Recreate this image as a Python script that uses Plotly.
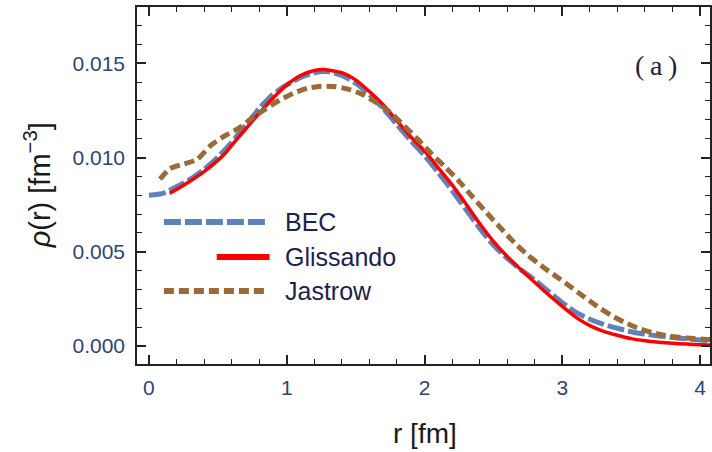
import plotly.graph_objects as go

# Radial density profiles rho(r) [fm^-3]
bec_r = [0.0, 0.1, 0.2, 0.3, 0.4, 0.5, 0.6, 0.7, 0.8, 0.9, 1.0, 1.1, 1.2, 1.3, 1.4,
         1.5, 1.6, 1.7, 1.8, 1.9, 2.0, 2.1, 2.2, 2.3, 2.4, 2.5, 2.6, 2.7, 2.8, 2.9,
         3.0, 3.1, 3.2, 3.3, 3.4, 3.5, 3.6, 3.7, 3.8, 3.9, 4.0, 4.1]
bec_rho = [0.00800, 0.00810, 0.00845, 0.00885, 0.00937, 0.01002, 0.01080, 0.01170,
           0.01260, 0.01335, 0.01385, 0.01425, 0.01450, 0.01455, 0.01435, 0.01395,
           0.01335, 0.01260, 0.01175, 0.01090, 0.01010, 0.00920, 0.00825, 0.00725,
           0.00625, 0.00535, 0.00465, 0.00405, 0.00350, 0.00290, 0.00230, 0.00178,
           0.00142, 0.00115, 0.00094, 0.00076, 0.00063, 0.00053, 0.00045, 0.00038,
           0.00032, 0.00028]

gli_r = [0.15, 0.2, 0.3, 0.4, 0.5, 0.55, 0.6, 0.7, 0.8, 0.9, 1.0, 1.1, 1.2, 1.27, 1.35,
         1.4, 1.5, 1.6, 1.7, 1.8, 1.9, 2.0, 2.1, 2.2, 2.3, 2.4, 2.5, 2.6, 2.7, 2.8,
         2.9, 3.0, 3.1, 3.2, 3.3, 3.4, 3.5, 3.6, 3.7, 3.8, 3.9, 4.0, 4.1]
gli_rho = [0.00810, 0.00830, 0.00875, 0.00925, 0.00985, 0.01020, 0.01065, 0.01150,
           0.01235, 0.01315, 0.01385, 0.01435, 0.01462, 0.01467, 0.01458, 0.01450,
           0.01412, 0.01350, 0.01280, 0.01195, 0.01110, 0.01035, 0.00945, 0.00855,
           0.00755, 0.00650, 0.00555, 0.00475, 0.00405, 0.00338, 0.00272, 0.00210,
           0.00152, 0.00108, 0.00078, 0.00057, 0.00039, 0.00028, 0.00020, 0.00014,
           0.00010, 0.00007, 0.00005]

jas_r = [0.08, 0.15, 0.25, 0.35, 0.45, 0.55, 0.65, 0.75, 0.85, 0.95, 1.05, 1.15, 1.25,
         1.35, 1.45, 1.55, 1.65, 1.75, 1.85, 1.95, 2.05, 2.15, 2.25, 2.35, 2.45, 2.55,
         2.65, 2.75, 2.85, 2.95, 3.05, 3.15, 3.25, 3.35, 3.45, 3.55, 3.65, 3.75, 3.85,
         3.95, 4.05, 4.1]
jas_rho = [0.00885, 0.00940, 0.00965, 0.00990, 0.01065, 0.01115, 0.01155, 0.01210,
           0.01260, 0.01305, 0.01342, 0.01368, 0.01378, 0.01377, 0.01362, 0.01335,
           0.01292, 0.01240, 0.01170, 0.01098, 0.01020, 0.00950, 0.00875, 0.00790,
           0.00708, 0.00628, 0.00550, 0.00482, 0.00425, 0.00372, 0.00320, 0.00265,
           0.00212, 0.00165, 0.00126, 0.00095, 0.00072, 0.00056, 0.00046, 0.00040,
           0.00035, 0.00033]

series_names = ["BEC", "Glissando", "Jastrow"]
x_ticks = [0, 1, 2, 3, 4]
y_ticks = [0.000, 0.005, 0.010, 0.015]

styles = {
    "BEC": dict(color="#5f82b8", width=5, dash="17px,4px"),
    "Glissando": dict(color="#ff0000", width=3.5, dash="solid"),
    "Jastrow": dict(color="#9c6a36", width=5, dash="10px,5px"),
}

W, H = 712, 452
ML, MR, MT, MB = 137, 0, 7, 88


def px_to_paper(px, py):
    return (px - ML) / (W - ML - MR), (H - MB - py) / (H - MT - MB)


fig = go.Figure()
for name, rr, rho in [("BEC", bec_r, bec_rho), ("Glissando", gli_r, gli_rho),
                      ("Jastrow", jas_r, jas_rho)]:
    fig.add_trace(go.Scatter(x=rr, y=rho, mode="lines", name=name,
                             line=dict(shape="spline", smoothing=0.6, **styles[name]),
                             showlegend=False))

axis_col = "#222222"
tick_font = dict(family="Liberation Sans, Arial, sans-serif", size=21, color="#2f4378")

fig.update_xaxes(range=[-0.0868, 4.072], showline=True, linewidth=1.5, linecolor=axis_col,
                 mirror="ticks", ticks="inside", ticklen=9, tickwidth=1.5, tickcolor=axis_col,
                 tickvals=x_ticks, ticktext=[str(v) for v in x_ticks],
                 minor=dict(dtick=0.2, tick0=0, ticks="inside", ticklen=5, tickwidth=1.2,
                            tickcolor=axis_col),
                 showgrid=False, zeroline=False, tickfont=tick_font, ticklabelstandoff=4)
fig.update_yaxes(range=[-0.000955, 0.017987], showline=True, linewidth=1.5, linecolor=axis_col,
                 mirror="ticks", ticks="inside", ticklen=9, tickwidth=1.5, tickcolor=axis_col,
                 tickvals=y_ticks, ticktext=[f"{v:.3f}" for v in y_ticks],
                 minor=dict(dtick=0.001, tick0=0, ticks="inside", ticklen=5, tickwidth=1.2,
                            tickcolor=axis_col),
                 showgrid=False, zeroline=False, tickfont=tick_font, ticklabelstandoff=6)

# axis titles
tx, ty = px_to_paper(426, 433)
fig.add_annotation(x=tx, y=ty, xref="paper", yref="paper", text="r [fm]", showarrow=False,
                   xanchor="center", yanchor="middle",
                   font=dict(family="Liberation Sans, Arial, sans-serif", size=28, color="#1a1a1a"))
tx, ty = px_to_paper(37, 185)
fig.add_annotation(x=tx, y=ty, xref="paper", yref="paper",
                   text="<i>ρ</i>(r) [fm<sup>−3</sup>]", showarrow=False, textangle=-90,
                   xanchor="center", yanchor="middle",
                   font=dict(family="Liberation Sans, Arial, sans-serif", size=29, color="#1a1a1a"))

# panel label
tx, ty = px_to_paper(658, 66)
fig.add_annotation(x=tx, y=ty, xref="paper", yref="paper", text="(\u2009a\u2009)", showarrow=False,
                   xanchor="center", yanchor="middle",
                   font=dict(family="Liberation Serif, Times New Roman, serif", size=28,
                             color="#1c2340"))

# legend
legend_rows = {"BEC": (164, 267, 222), "Glissando": (217, 270, 257), "Jastrow": (164, 267, 291)}
for name in series_names:
    x0p, x1p, yp = legend_rows[name]
    a0, b0 = px_to_paper(x0p, yp)
    a1, _ = px_to_paper(x1p, yp)
    st = styles[name]
    fig.add_shape(type="line", xref="paper", yref="paper", x0=a0, x1=a1, y0=b0, y1=b0,
                  line=dict(color=st["color"], width=6, dash=st["dash"]))
    lx, _ = px_to_paper(284, yp)
    fig.add_annotation(x=lx, y=b0, xref="paper", yref="paper", text=name, showarrow=False,
                       xanchor="left", yanchor="middle",
                       font=dict(family="Liberation Sans, Arial, sans-serif", size=25,
                                 color="#1d2250"))

fig.update_layout(width=W, height=H, margin=dict(l=ML, r=MR, t=MT, b=MB),
                  paper_bgcolor="white", plot_bgcolor="white", showlegend=False)

fig.write_html("out.html")
